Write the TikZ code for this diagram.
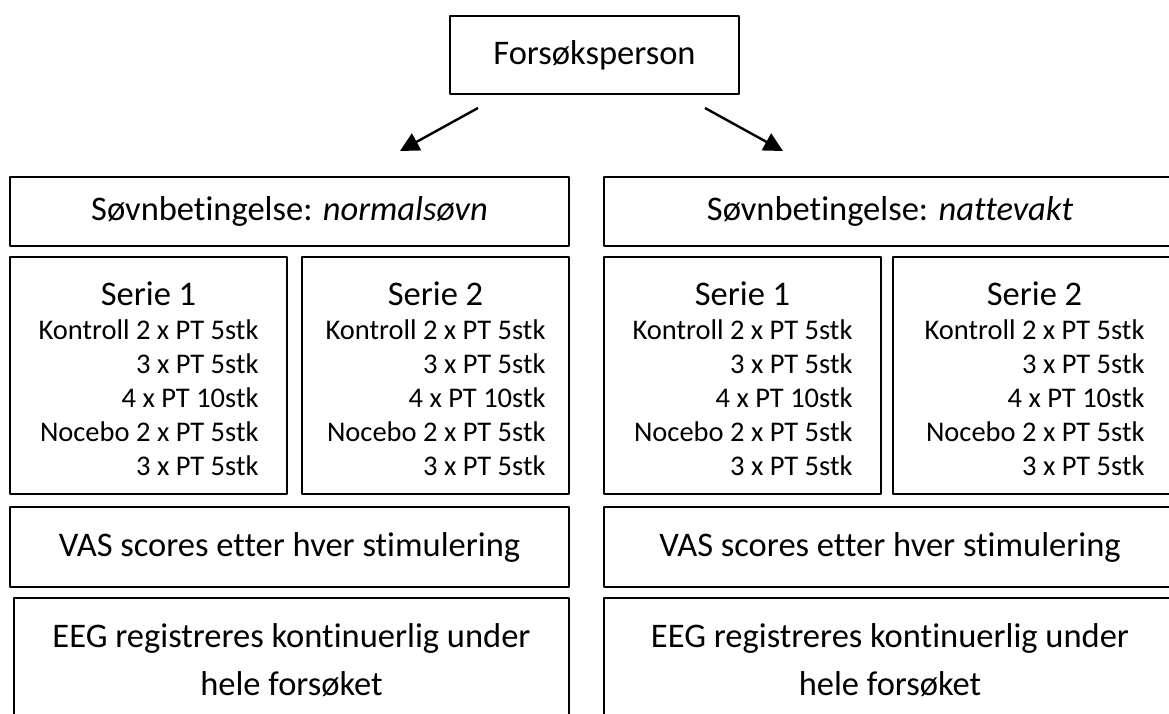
\documentclass[tikz,border=0pt]{standalone}
\usepackage{fontspec}
\setmainfont[Ligatures=NoCommon]{Carlito}
\usetikzlibrary{arrows.meta}
\newcommand{\bigsz}{\fontsize{34.5}{48}\selectfont}
\newcommand{\linesz}{\fontsize{28.5}{34}\selectfont}
\newcommand{\serietext}[1]{\begin{tabular}{@{}r@{}}
  \multicolumn{1}{@{}c@{}}{\rule{0pt}{39.8pt}\bigsz Serie #1}\\
  Kontroll 2 x PT 5stk\\
  3 x PT 5stk\\
  4 x PT 10stk\\
  Nocebo 2 x PT 5stk\\
  3 x PT 5stk
\end{tabular}}

\begin{document}
\begin{tikzpicture}[x=1pt, y=-1pt, line join=round,
    box/.style={draw, line width=2.4pt, inner sep=0pt, font=\bigsz, align=center},
    link/.style={line width=2.4pt, -{Triangle[length=19pt,width=19pt]}}]
  \useasboundingbox (0,0) rectangle (1169,713);
  \path
  (478,108) coordinate (aLs)
  (400,151) coordinate (aLe)
  (705,108) coordinate (aRs)
  (783,151) coordinate (aRe);
  \node[box, minimum width=289pt, minimum height=78pt] (forsok) at (594.5,55) {Forsøksperson};
  % sleep conditions
  \node[box, minimum width=559pt, minimum height=69pt] (condL) at (289.5,211.5) {Søvnbetingelse: \textit{normalsøvn}};
  \node[box, minimum width=572pt, minimum height=69pt] (condR) at (890,211.5) {Søvnbetingelse: \textit{nattevakt}};
  % series
  \foreach \n/\x/\w/\s in {s1L/148.5/277/1, s2L/435.5/267/2, s1R/742.5/277/1, s2R/1034.5/283/2}
  \node[box, font=\linesz, minimum width=\w pt, minimum height=237pt] (\n) at (\x,375.5) {\serietext{\s}};
  % VAS
  \node[box, minimum width=559pt, minimum height=80pt] (vasL) at (289.5,547) {VAS scores etter hver stimulering};
  \node[box, minimum width=572pt, minimum height=80pt] (vasR) at (890,547) {VAS scores etter hver stimulering};
  % EEG
  \node[box, minimum width=555pt, minimum height=124pt] (eegL) at (291.5,660) {EEG registreres kontinuerlig under\\hele forsøket};
  \node[box, minimum width=572pt, minimum height=124pt] (eegR) at (890,660) {EEG registreres kontinuerlig under\\hele forsøket};
  \draw[link] (aLs) -- (aLe);
  \draw[link] (aRs) -- (aRe);
\end{tikzpicture}
\end{document}
